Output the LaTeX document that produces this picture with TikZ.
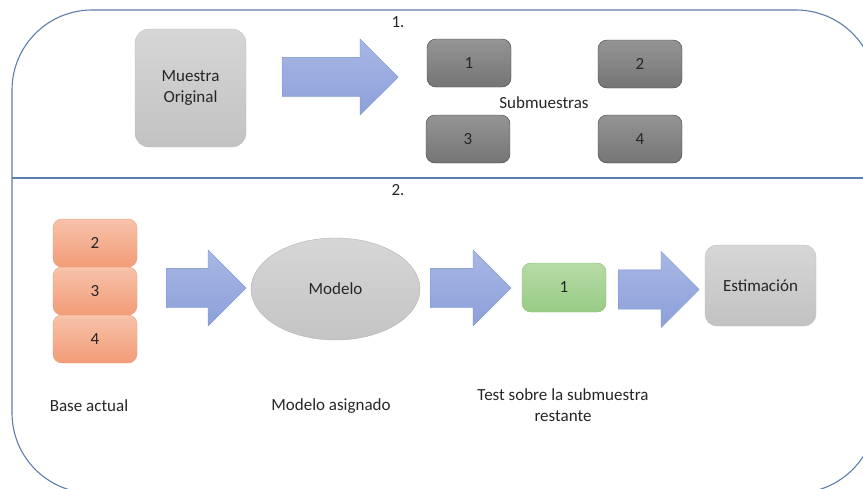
\documentclass[tikz,border=0pt]{standalone}
\usepackage{fontspec}
\setmainfont{Carlito}
\usetikzlibrary{shapes.geometric,shapes.arrows}
\definecolor{framec}{HTML}{5D7DAB}
\definecolor{txt}{HTML}{262626}
\definecolor{arrowtop}{HTML}{A7B7E4}
\definecolor{arrowbot}{HTML}{8CA0DA}
\definecolor{arrowline}{HTML}{7890D0}
\definecolor{oratop}{HTML}{F7C2AA}
\definecolor{orabot}{HTML}{F29C78}
\definecolor{oraline}{HTML}{EE9A72}
\definecolor{greentop}{HTML}{B7DBA6}
\definecolor{greenbot}{HTML}{98CB85}
\definecolor{greenline}{HTML}{86BE6E}

\begin{document}
\begin{tikzpicture}[x=1pt, y=-1pt,
      every node/.style = {font=\fontsize{17}{21}\selectfont, text=txt, align=center},
      greybox/.style = {shape=rectangle, rounded corners=14pt, draw=black!25,
        top color=black!16, bottom color=black!24},
      subbox/.style = {shape=rectangle, rounded corners=9pt, draw=black!75,
        top color=black!42, bottom color=black!54, minimum width=84pt, minimum height=48pt},
      basebox/.style = {shape=rectangle, rounded corners=9pt, draw=oraline,
        top color=oratop, bottom color=orabot, minimum width=84pt, minimum height=48pt},
      testbox/.style = {shape=rectangle, rounded corners=9pt, draw=greenline,
        top color=greentop, bottom color=greenbot, minimum width=84pt, minimum height=49pt},
      bigarrow/.style = {single arrow, single arrow head extend=18.5pt, inner xsep=0pt,
        inner ysep=19.5pt, anchor=west, draw=arrowline, top color=arrowtop,
        bottom color=arrowbot}]
  \useasboundingbox (0,0) rectangle (863,488);
  \clip (0,0) rectangle (863,488);
  % marco
  \draw[framec, line width=1.1pt, rounded corners=80pt] (12,10) rectangle (876,493);
  \draw[framec, line width=1.1pt] (12,178) -- (876,178);
  \node (paso1) at (398,22) {1.};
  \node (paso2) at (398,190) {2.};
  % paso 1
  \node[greybox, minimum width=111pt, minimum height=118pt] (orig) at (190.5,88) {Muestra\\Original};
  \node[bigarrow, minimum height=116pt] (flecha1) at (282,77) {};
  \node[subbox] (s1) at (469,63) {1};
  \node[subbox] (s2) at (640,64) {2};
  \node[subbox] (s3) at (468,139) {3};
  \node[subbox] (s4) at (640,139) {4};
  \node (sub) at (544,103) {Submuestras};
  % paso 2
  \node[basebox] (b2) at (95,243) {2};
  \node[basebox] (b3) at (95,291) {3};
  \node[basebox] (b4) at (95,339) {4};
  \node[bigarrow, minimum height=80pt] (flecha2) at (166,288) {};
  \node[ellipse, draw=black!30, top color=black!16, bottom color=black!23,
    minimum width=169pt, minimum height=102pt] (modelo) at (335.5,289) {Modelo};
  \node[bigarrow, minimum height=81pt] (flecha3) at (430,288) {};
  \node[testbox] (test) at (564,287.5) {1};
  \node[bigarrow, minimum height=81pt] (flecha4) at (618,289.5) {};
  \node[greybox, rounded corners=12pt, minimum width=111pt, minimum height=81pt] (est) at (760.5,285.5) {Estimación};
  \node (base) at (89,406) {Base actual};
  \node (asig) at (331,406) {Modelo asignado};
  \node (rest) at (563,405) {Test sobre la submuestra\\restante};
\end{tikzpicture}
\end{document}
